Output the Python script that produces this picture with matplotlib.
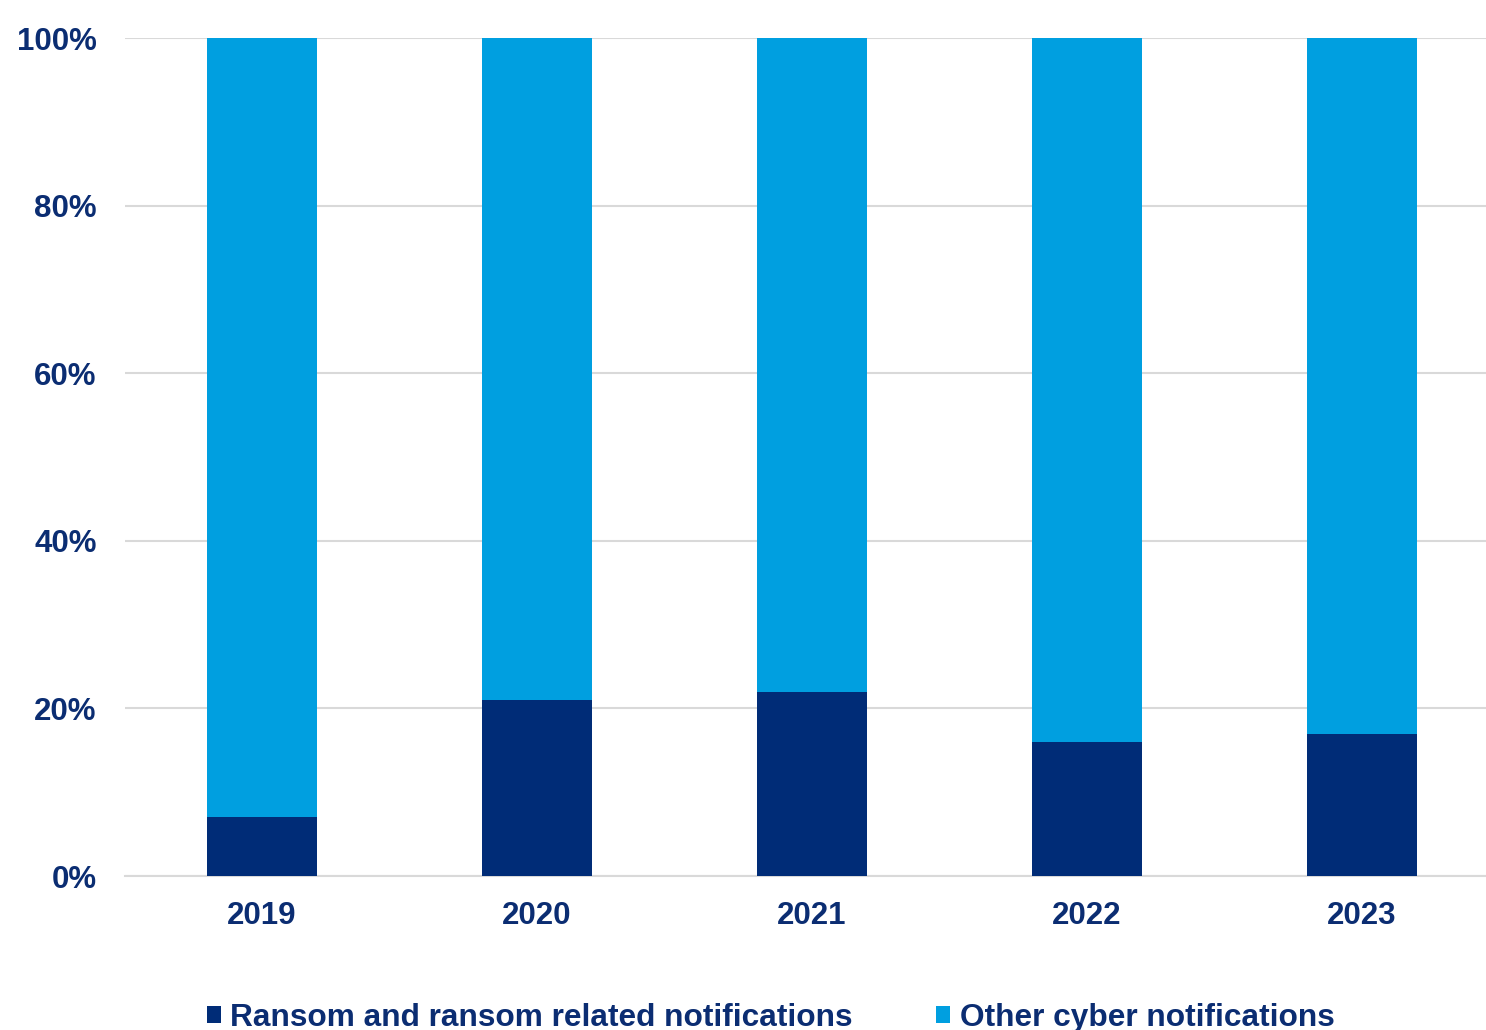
import matplotlib
matplotlib.use('Agg')
import matplotlib.pyplot as plt
import numpy as np

# Share of cyber notifications by type, per year (%)
years = ['2019', '2020', '2021', '2022', '2023']
ransom = [7, 21, 22, 16, 17]
other = [100 - r for r in ransom]
y_ticks = [0, 20, 40, 60, 80, 100]

DARK = '#002C77'
LIGHT = '#009FE0'
TEXT = '#0B2D72'
GRID = '#D9D9D9'

plt.rcParams['font.family'] = ['Liberation Sans', 'DejaVu Sans']
plt.rcParams['font.weight'] = 'bold'

fig = plt.figure(figsize=(14.86, 10.30), dpi=100)
ax = fig.add_axes([124.5 / 1486, 0.1495, 1375 / 1486, 0.8136])

x = np.arange(len(years))
ax.bar(x, ransom, width=0.4, color=DARK, label='Ransom and ransom related notifications', zorder=3)
ax.bar(x, other, width=0.4, bottom=ransom, color=LIGHT, label='Other cyber notifications', zorder=3)

ax.set_xlim(-0.5, len(years) - 0.5)
ax.set_ylim(0, 100)
ax.set_yticks(y_ticks)
ax.set_yticklabels([f'{t}%' for t in y_ticks])
ax.set_xticks(x)
ax.set_xticklabels(years)

ax.grid(axis='y', color=GRID, linewidth=1.5, zorder=0)
ax.set_axisbelow(True)
for s in ['top', 'right', 'left']:
    ax.spines[s].set_visible(False)
ax.spines['bottom'].set_color(GRID)
ax.spines['bottom'].set_linewidth(1.5)
ax.tick_params(axis='both', length=0, labelsize=22.5, labelcolor=TEXT)
ax.tick_params(axis='y', pad=20)
ax.tick_params(axis='x', pad=18)

fig.legend(loc='center', bbox_to_anchor=(0.5185, 0.012), ncol=2, frameon=False,
           fontsize=22.8, labelcolor=TEXT, handlelength=0.45, handleheight=0.45,
           handletextpad=0.3, columnspacing=2.62)

fig.savefig('out.png', dpi=100)
